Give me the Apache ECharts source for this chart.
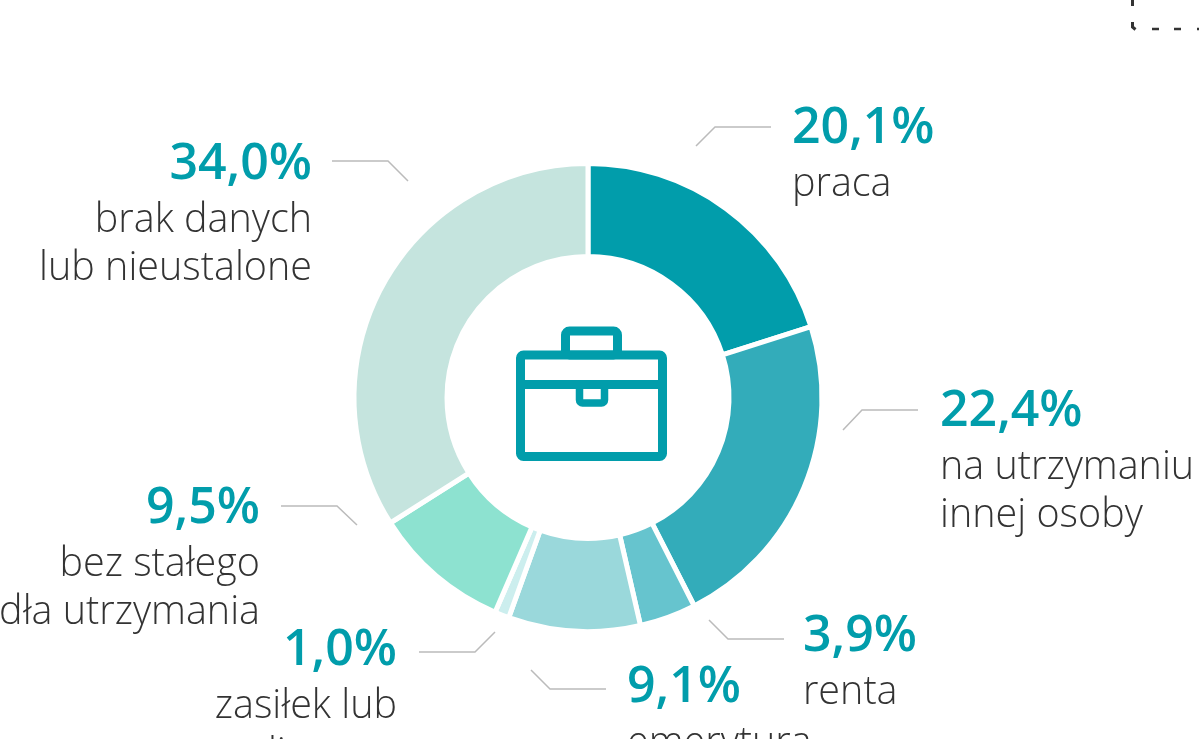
<!DOCTYPE html>
<html><head><meta charset="utf-8">
<style>html,body{margin:0;padding:0;background:#fff;overflow:hidden}#c{width:1199px;height:739px}</style>
<script src="https://cdn.jsdelivr.net/npm/echarts@6/dist/echarts.min.js"></script>
</head><body><div id="c"></div>
<script>
const categories = ['praca','na utrzymaniu\ninnej osoby','renta','emerytura','zasiłek lub\nalimenty','bez stałego\nźródła utrzymania','brak danych\nlub nieustalone'];
const values = [20.1,22.4,3.9,9.1,1.0,9.5,34.0];
const colors = ['#019DAB','#33ACBA','#66C4CE','#9AD8DB','#CCEEEE','#8DE2D0','#C5E4DE'];
const labelX = [792,940,803,627,397,260,312];
const labelY = [97,380,605,656,619,477,133];
const labelSide = ['left','left','left','left','right','right','right'];
const leaders = [
 [[771,127],[715,127],[696,146]],
 [[918,410],[862,410],[843,430]],
 [[784,639],[728,639],[709,620]],
 [[606,689],[550,689],[531,670]],
 [[419,652],[475,652],[495,632]],
 [[281,506],[337,506],[357,525]],
 [[332,161],[388,161],[408,181]]
];
const FONT = 'Open Sans';
const chart = echarts.init(document.getElementById('c'), null, {renderer:'canvas'});
const teal = '#019DAB', stroke = 9;
const fmt = v => v.toFixed(1).replace('.',',') + '%';
const data = values.map((v,i)=>{
  const a = labelSide[i];
  const lines = categories[i].split('\n').map(s=>'{n|'+s+'}').join('\n');
  return {value:v,name:categories[i],itemStyle:{color:colors[i]},
    label:{formatter:'{v|'+fmt(v)+'}\n'+lines,overflow:'none',
      rich:{v:{fontFamily:FONT,fontSize:50,fontWeight:600,color:teal,lineHeight:64,align:a},
            n:{fontFamily:FONT,fontSize:39.5,fontWeight:300,color:'#333',lineHeight:48,align:a}}},
    labelLine:{show:true}};
});
chart.setOption({
  animation:false,
  backgroundColor:'#fff',
  series:[{type:'pie',center:[588,397.5],radius:[141,234],startAngle:90,clockwise:true,
    data,
    itemStyle:{borderColor:'#fff',borderWidth:5},
    label:{show:true,position:'outside',overflow:'none'},
    labelLine:{show:true,lineStyle:{color:'#bbb',width:1.5}},
    labelLayout:p=>({x:labelX[p.dataIndex],y:labelY[p.dataIndex],align:labelSide[p.dataIndex],verticalAlign:'top',hideOverlap:false,moveOverlap:false,labelLinePoints:leaders[p.dataIndex]}),
    emphasis:{disabled:true},silent:true}],
  graphic:[
   {type:'line',shape:{x1:1132.5,y1:0,x2:1132.5,y2:6},style:{stroke:'#333',lineWidth:3}},
   {type:'polyline',shape:{points:[[1132.5,22],[1132.5,27],[1135.5,29.5]]},style:{stroke:'#333',fill:null,lineWidth:3}},
   {type:'line',shape:{x1:1152,y1:29,x2:1159,y2:29},style:{stroke:'#333',lineWidth:2.5}},
   {type:'line',shape:{x1:1174,y1:29,x2:1181,y2:29},style:{stroke:'#333',lineWidth:2.5}},
   {type:'line',shape:{x1:1197,y1:29,x2:1199,y2:29},style:{stroke:'#333',lineWidth:2.5}},
   {type:'rect',shape:{x:565.5,y:331,width:52,height:24,r:4},style:{stroke:teal,fill:null,lineWidth:stroke}},
   {type:'rect',shape:{x:579.5,y:385,width:25,height:18,r:3},style:{stroke:teal,fill:null,lineWidth:7.5}},
   {type:'rect',shape:{x:520.5,y:355,width:142,height:101.5,r:3},style:{stroke:teal,fill:null,lineWidth:stroke}},
   {type:'line',shape:{x1:520,y1:384.5,x2:663,y2:384.5},style:{stroke:teal,lineWidth:stroke}}
  ]
});
</script></body></html>
